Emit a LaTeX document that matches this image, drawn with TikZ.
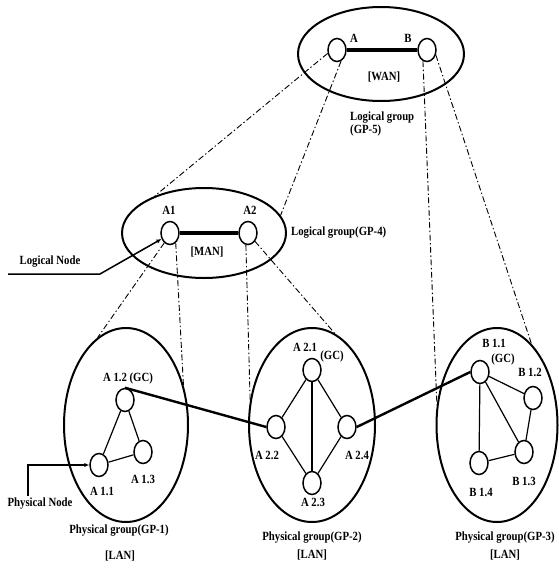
\documentclass[tikz,border=0pt]{standalone}
\usepackage{fontspec}
\setmainfont{Liberation Serif}[FakeStretch=0.86]
\usetikzlibrary{shapes.geometric,arrows.meta}
\begin{document}
\begin{tikzpicture}[x=1pt,y=-1pt,
  grp/.style={draw,ellipse,line width=2pt,inner sep=0pt},
  nd/.style={draw,ellipse,line width=1.5pt,minimum width=18pt,minimum height=23pt,inner sep=0pt},
  lbl/.style={font=\fontsize{12.5}{13}\selectfont\bfseries,inner sep=0pt},
  dd/.style={line width=0.9pt,dash pattern=on 6pt off 2.5pt on 1.4pt off 2.5pt},
  edg/.style={line width=1.2pt},
  link/.style={line width=2.4pt},
  biglink/.style={line width=3.8pt},
  pointer/.style={line width=1.5pt,-{Latex[length=5pt,width=4.5pt]}}
]
\useasboundingbox (0,0) rectangle (558,570);

% WAN
\node[grp,minimum width=166pt,minimum height=94pt] (WAN) at (381,54) {};
\node[nd] (A) at (337,50) {};
\node[nd] (B) at (427,50) {};
\draw[biglink] (A) -- (B);
\node[lbl] (tA) at (354,38) {A};
\node[lbl] (tB) at (408,38) {B};
\node[lbl] (tWAN) at (384,77) {[WAN]};
\node[lbl,anchor=west,align=left,font=\fontsize{12.5}{10}\selectfont\bfseries] (lg5) at (350,124) {Logical group\\(GP-5)};

% MAN
\node[grp,minimum width=164pt,minimum height=90pt] (MAN) at (204,233) {};
\node[nd] (A1) at (170,233) {};
\node[nd] (A2) at (248,233) {};
\draw[biglink] (A1) -- (A2);
\node[lbl] (tA1) at (169,210) {A1};
\node[lbl] (tA2) at (250,210) {A2};
\node[lbl] (tMAN) at (207,252) {[MAN]};
\node[lbl,anchor=west] (lg4) at (291,233) {Logical group(GP-4)};

% Logical node pointer
\node[lbl] (tLN) at (50,262) {Logical Node};
\coordinate (ln0) at (8,274);
\coordinate (ln1) at (100,274);
\draw[pointer] (ln0) -- (ln1) -- (A1.215);

% GP-1
\node[grp,minimum width=124pt,minimum height=194pt] (GP1) at (126,425) {};
\node[nd] (A12) at (125,400) {};
\node[nd] (A13) at (143,452) {};
\node[nd] (A11) at (99,465) {};
\draw[edg] (A12) -- (A11);
\draw[edg] (A12) -- (A13);
\draw[edg] (A11) -- (A13);
\node[lbl] (tA12) at (128,378) {A 1.2 (GC)};
\node[lbl] (tA13) at (143,479) {A 1.3};
\node[lbl] (tA11) at (102,491) {A 1.1};
\node[lbl] (tGP1) at (119,531) {Physical group(GP-1)};
\node[lbl] (tLAN1) at (120,556) {[LAN]};

% Physical node pointer
\node[lbl] (tPN) at (40,504) {Physical Node};
\coordinate (pn0) at (28,496);
\coordinate (pn1) at (28,465);
\draw[pointer] (pn0) -- (pn1) -- (A11.west);

% GP-2
\node[grp,minimum width=126pt,minimum height=194pt] (GP2) at (312,425) {};
\node[nd] (A21) at (312,370) {};
\node[nd] (A22) at (276,427) {};
\node[nd] (A24) at (347,427) {};
\node[nd] (A23) at (312,483) {};
\draw[edg] (A21) -- (A22);
\draw[edg] (A21) -- (A24);
\draw[edg] (A21) -- (A23);
\draw[edg] (A22) -- (A23);
\draw[edg] (A24) -- (A23);
\node[lbl] (tA21) at (305,347) {A 2.1};
\node[lbl] (tA21gc) at (332,356) {(GC)};
\node[lbl] (tA22) at (267,455) {A 2.2};
\node[lbl] (tA24) at (357,455) {A 2.4};
\node[lbl] (tA23) at (313,502) {A 2.3};
\node[lbl] (tGP2) at (312,538) {Physical group(GP-2)};
\node[lbl] (tLAN2) at (312,555) {[LAN]};

% GP-3
\node[grp,minimum width=121pt,minimum height=194pt] (GP3) at (497,425) {};
\node[nd] (B11) at (480,372) {};
\node[nd] (B12) at (533,398) {};
\node[nd] (B13) at (524,452) {};
\node[nd] (B14) at (479,463) {};
\draw[edg] (B11) -- (B12);
\draw[edg] (B11) -- (B13);
\draw[edg] (B11) -- (B14);
\draw[edg] (B12) -- (B13);
\draw[edg] (B14) -- (B13);
\node[lbl] (tB11) at (494,343) {B 1.1};
\node[lbl] (tB11gc) at (503,359) {(GC)};
\node[lbl] (tB12) at (530,372) {B 1.2};
\node[lbl] (tB13) at (524,481) {B 1.3};
\node[lbl] (tB14) at (481,492) {B 1.4};
\node[lbl] (tGP3) at (505,538) {Physical group(GP-3)};
\node[lbl] (tLAN3) at (505,555) {[LAN]};

% inter-group physical links
\draw[link] (A12.north) -- (A22.west);
\draw[link] (A24.east) -- (B11.west);

% projection lines
\draw[dd] (A.200) -- (MAN.143);
\draw[dd] (A.-70) -- (MAN.13);
\draw[dd] (B.-110) -- (GP3.161);
\draw[dd] (B.-30) -- (GP3.67);
\draw[dd] (A1.-120) -- (GP1.108);
\draw[dd] (A1.-60) -- (GP1.35);
\draw[dd] (A2.-100) -- (GP2.158);
\draw[dd] (A2.-50) -- (GP2.76);
\end{tikzpicture}
\end{document}
